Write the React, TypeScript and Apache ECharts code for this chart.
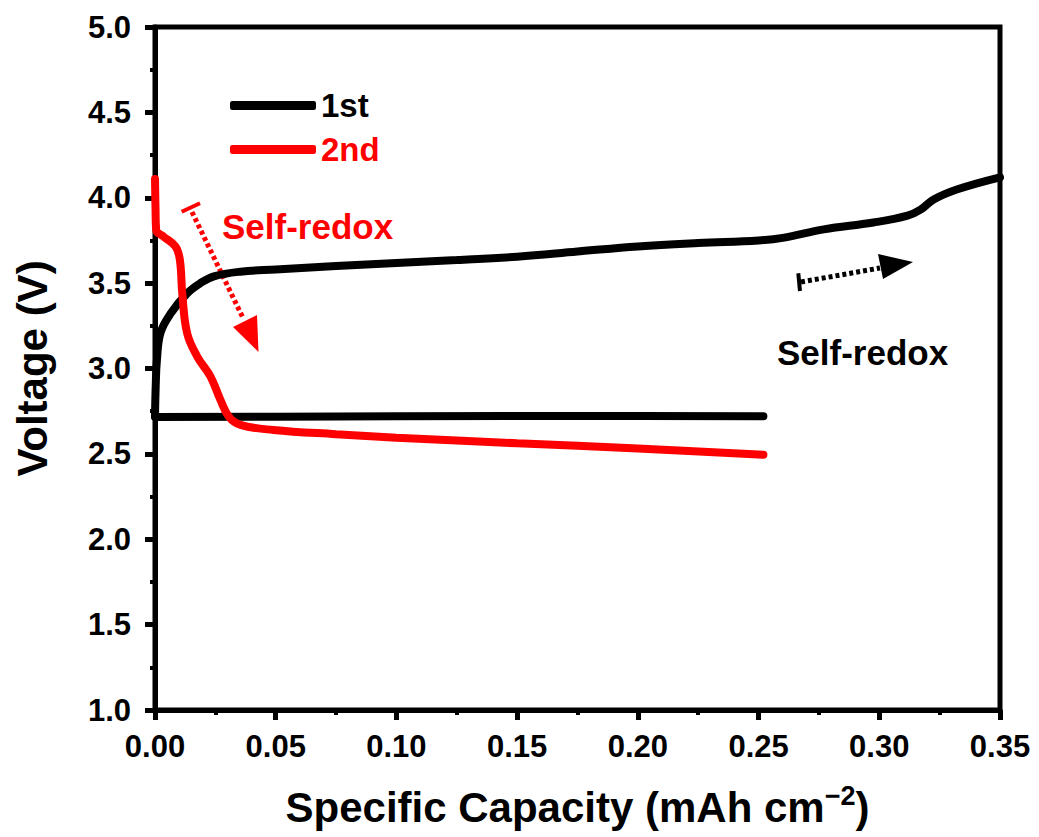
import React, { useEffect, useRef } from "react";
import * as echarts from "echarts";

// Charge / discharge profiles, capacity (mAh cm^-2) vs voltage (V)
const firstDischarge: [number, number][] = [
  [0, 2.716], [0.05, 2.718], [0.1, 2.721], [0.15, 2.722], [0.2, 2.722], [0.252, 2.72],
];
const firstCharge: [number, number][] = [
  [0, 2.72], [0.0003, 2.9], [0.0008, 3.05], [0.0023, 3.21], [0.0064, 3.32],
  [0.0133, 3.44], [0.0188, 3.5], [0.0244, 3.54], [0.0354, 3.567], [0.05, 3.58],
  [0.075, 3.6], [0.1, 3.618], [0.125, 3.635], [0.15, 3.655], [0.175, 3.685],
  [0.2, 3.715], [0.225, 3.735], [0.25, 3.75], [0.26, 3.765], [0.277, 3.815],
  [0.2976, 3.855], [0.3117, 3.895], [0.3171, 3.93], [0.3225, 3.99], [0.3324, 4.05],
  [0.35, 4.12],
];
const secondCycle: [number, number][] = [
  [0, 4.11], [0.0002, 3.95], [0.0005, 3.81], [0.0036, 3.772], [0.0085, 3.714],
  [0.0103, 3.636], [0.0113, 3.44], [0.0133, 3.207], [0.0175, 3.07], [0.023, 2.953],
  [0.0271, 2.816], [0.0306, 2.718], [0.0354, 2.67], [0.049, 2.64], [0.075, 2.615],
  [0.1, 2.595], [0.15, 2.562], [0.2, 2.532], [0.252, 2.495],
];

const xTicks = { min: 0, max: 0.35, interval: 0.05 };
const yTicks = { min: 1, max: 5, interval: 0.5 };

const FONT = "Arial, 'Liberation Sans', Helvetica, sans-serif";

export default function App() {
  const ref = useRef<HTMLDivElement>(null);

  useEffect(() => {
    if (!ref.current) return;
    const chart = echarts.init(ref.current, undefined, { renderer: "svg" });

    const axisCommon = {
      axisLine: { show: true, onZero: false, lineStyle: { color: "#000", width: 5 } },
      axisTick: { show: true, inside: false, length: 10, lineStyle: { color: "#000", width: 5 } },
      minorTick: { show: true, splitNumber: 2, length: 5, lineStyle: { color: "#000", width: 4 } },
      splitLine: { show: false },
      minorSplitLine: { show: false },
    };

    chart.setOption({
      animation: false,
      backgroundColor: "#fff",
      grid: {
        left: 155, right: 39, top: 27, bottom: 127,
        containLabel: false,
        outerBoundsMode: "none",
        show: true, borderColor: "#000", borderWidth: 5, backgroundColor: "transparent",
      },
      legend: {
        orient: "vertical",
        left: 225,
        top: 84,
        itemWidth: 86,
        itemHeight: 9,
        itemGap: 11,
        icon: "roundRect",
        data: [
          { name: "1st", textStyle: { color: "#000" } },
          { name: "2nd", textStyle: { color: "#ff0000" } },
        ],
        textStyle: { fontFamily: FONT, fontWeight: "bold", fontSize: 33, padding: [0, 0, 0, 0] },
      },
      xAxis: {
        type: "value",
        ...xTicks,
        ...axisCommon,
        name: "Specific Capacity (mAh cm{sup|−2})",
        nameLocation: "middle",
        nameGap: 72,
        nameTextStyle: {
          fontFamily: FONT, fontWeight: "bold", fontSize: 42, color: "#000",
          rich: {
            sup: { fontFamily: FONT, fontWeight: "bold", fontSize: 27, color: "#000", padding: [0, 0, 24, 0] },
          },
        },
        axisLabel: {
          fontFamily: FONT, fontWeight: "bold", fontSize: 31, color: "#000", margin: 21,
          formatter: (v: number) => v.toFixed(2),
        },
      },
      yAxis: {
        type: "value",
        ...yTicks,
        ...axisCommon,
        name: "Voltage (V)",
        nameLocation: "middle",
        nameGap: 102,
        nameTextStyle: { fontFamily: FONT, fontWeight: "bold", fontSize: 42, color: "#000" },
        axisLabel: {
          fontFamily: FONT, fontWeight: "bold", fontSize: 31, color: "#000", margin: 24,
          formatter: (v: number) => v.toFixed(1),
        },
      },
      series: [
        {
          name: "1st", type: "line", data: firstDischarge, showSymbol: false,
          lineStyle: { color: "#000", width: 8, cap: "round" }, itemStyle: { color: "#000" },
        },
        {
          name: "1st", type: "line", data: firstCharge, showSymbol: false, smooth: 0.4,
          lineStyle: { color: "#000", width: 8, cap: "round" }, itemStyle: { color: "#000" },
        },
        {
          name: "2nd", type: "line", data: secondCycle, showSymbol: false, smooth: 0.4,
          lineStyle: { color: "#ff0000", width: 8, cap: "round" }, itemStyle: { color: "#ff0000" },
        },
      ],
      graphic: [
        // red dotted arrow with its end bar
        { type: "line", shape: { x1: 181.7, y1: 211.7, x2: 200, y2: 203.3 }, style: { stroke: "#ff0000", lineWidth: 4 } },
        { type: "line", shape: { x1: 192, y1: 212, x2: 243, y2: 318 }, style: { stroke: "#ff0000", lineWidth: 5, lineDash: [4, 3] } },
        { type: "polygon", shape: { points: [[233, 327], [258.5, 352], [257, 315]] }, style: { fill: "#ff0000" } },
        {
          type: "text", left: 222, top: 209,
          style: { text: "Self-redox", fill: "#ff0000", font: `bold 35px ${FONT}` },
        },
        // black dotted arrow with its end bar
        { type: "line", shape: { x1: 798.3, y1: 273.3, x2: 800, y2: 291 }, style: { stroke: "#000", lineWidth: 4 } },
        { type: "line", shape: { x1: 801, y1: 282, x2: 880, y2: 268 }, style: { stroke: "#000", lineWidth: 5, lineDash: [4, 3] } },
        { type: "polygon", shape: { points: [[878, 254], [913, 262], [883, 279]] }, style: { fill: "#000" } },
        {
          type: "text", left: 777, top: 335,
          style: { text: "Self-redox", fill: "#000", font: `bold 35px ${FONT}` },
        },
      ],
    });

    return () => chart.dispose();
  }, []);

  return (
    <div
      ref={ref}
      style={{ position: "absolute", left: 0, top: 0, width: 1039, height: 837, background: "#fff" }}
    />
  );
}
